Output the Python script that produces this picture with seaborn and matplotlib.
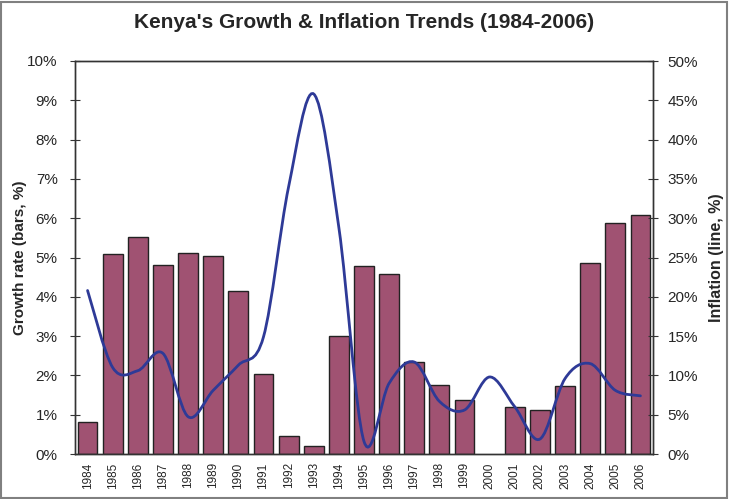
import numpy as np
import pandas as pd
import seaborn as sns
import matplotlib
matplotlib.use("Agg")
import matplotlib.pyplot as plt
from matplotlib.path import Path
from matplotlib.patches import PathPatch, Rectangle
from matplotlib.ticker import FuncFormatter

years = [1984, 1985, 1986, 1987, 1988, 1989, 1990, 1991, 1992, 1993, 1994, 1995,
         1996, 1997, 1998, 1999, 2000, 2001, 2002, 2003, 2004, 2005, 2006]
growth = [0.82, 5.10, 5.52, 4.81, 5.12, 5.04, 4.16, 2.04, 0.47, 0.21, 3.00, 4.78,
          4.58, 2.35, 1.76, 1.37, np.nan, 1.20, 1.12, 1.74, 4.87, 5.88, 6.08]
inflation = [20.8, 11.0, 10.6, 12.8, 4.75, 8.1, 11.3, 14.9, 34.0, 45.8, 28.8, 1.6,
             9.0, 11.7, 6.7, 5.6, 9.8, 6.0, 1.9, 9.6, 11.5, 8.1, 7.4]

BAR_COLOR = "#A05272"
LINE_COLOR = "#2E3A97"
AXIS_COLOR = "#333333"


def smooth_path(xs, ys):
    # excel-style smoothed line: cubic bezier segments through every point
    pts = np.column_stack([xs, ys])
    n = len(pts)
    verts = [pts[0]]
    codes = [Path.MOVETO]
    for i in range(n - 1):
        p0 = pts[max(i - 1, 0)]
        p1 = pts[i]
        p2 = pts[i + 1]
        p3 = pts[min(i + 2, n - 1)]
        verts += [p1 + (p2 - p0) / 6, p2 - (p3 - p1) / 6, p2]
        codes += [Path.CURVE4] * 3
    return Path(verts, codes)


sns.set_style("white")
plt.rcParams["font.family"] = ["Liberation Sans", "DejaVu Sans"]

df = pd.DataFrame({"year": [str(y) for y in years], "growth": growth})

fig = plt.figure(figsize=(7.29, 4.99), dpi=100)
ax = fig.add_axes([75 / 729, 1 - 454 / 499, 578 / 729, 393 / 499])

sns.barplot(data=df, x="year", y="growth", order=df["year"], color=BAR_COLOR,
            saturation=1, width=0.79, edgecolor="#222222", linewidth=1.0, ax=ax)

ax.set_xlim(-0.5, len(years) - 0.5)
ax.set_ylim(0, 10)
ax.set_yticks(np.arange(0, 11, 1))
ax.yaxis.set_major_formatter(FuncFormatter(lambda v, p: f"{v:.0f}%"))
ax.set_xticks(np.arange(len(years)))
ax.set_xticklabels([str(y) for y in years], rotation=90, fontsize=8.5)
ax.set_xticks(np.arange(-0.5, len(years)), minor=True)
ax.tick_params(axis="x", which="major", length=0, pad=6)
ax.tick_params(axis="x", which="minor", direction="inout", length=6, color=AXIS_COLOR)
ax.tick_params(axis="y", direction="inout", length=7, labelsize=11, pad=9, color=AXIS_COLOR)
ax.set_xlabel("")
ax.set_ylabel("Growth rate (bars, %)", fontsize=11, fontweight="bold", labelpad=0)

ax2 = ax.twinx()
ax2.set_ylim(0, 50)
ax2.set_yticks(np.arange(0, 51, 5))
ax2.yaxis.set_major_formatter(FuncFormatter(lambda v, p: f"{v:.0f}%"))
ax2.tick_params(axis="y", direction="inout", length=7, labelsize=11, pad=7, color=AXIS_COLOR)
ax2.add_patch(PathPatch(smooth_path(np.arange(len(years)), inflation), fill=False,
                        edgecolor=LINE_COLOR, linewidth=2.0, capstyle="round"))
ax2.set_ylabel("Inflation (line, %)", fontsize=11.5, fontweight="bold", labelpad=8)

for a in (ax, ax2):
    for s in a.spines.values():
        s.set_color(AXIS_COLOR)
        s.set_linewidth(1.0)

fig.text(0.5, 1 - 22 / 499, "Kenya's Growth & Inflation Trends (1984-2006)",
         ha="center", va="center", fontsize=15, fontweight="bold")

fig.patches.append(Rectangle((0.002, 0.003), 0.995, 0.993, transform=fig.transFigure,
                             fill=False, edgecolor="#808080", linewidth=1.5))

fig.savefig("out.png", dpi=100)
